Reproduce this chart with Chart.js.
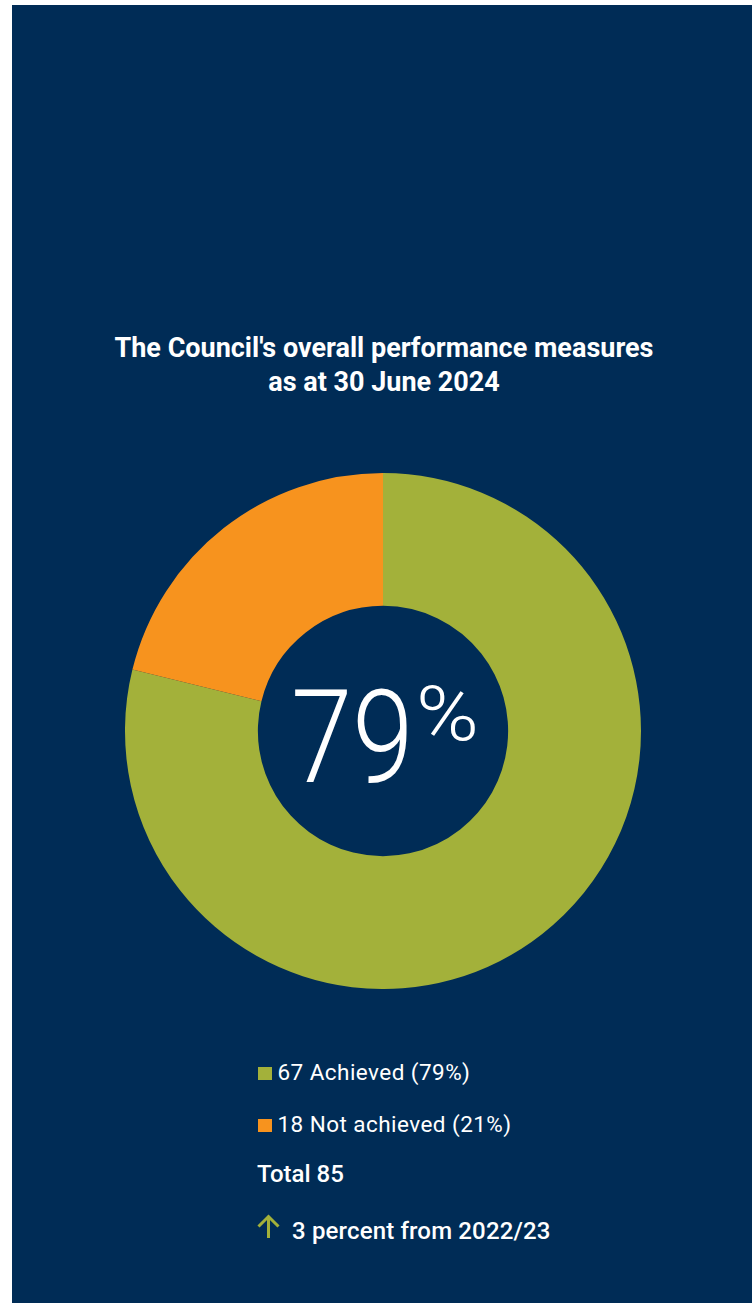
<!DOCTYPE html>
<html>
<head>
<meta charset="utf-8">
<script src="https://cdn.jsdelivr.net/npm/chart.js@4.4.1/dist/chart.umd.min.js"></script>
<style>
  html, body { margin: 0; padding: 0; background: #ffffff; }
  body { width: 752px; height: 1303px; position: relative; overflow: hidden; font-family: Roboto, "Noto Sans", sans-serif; }
  #panel { position: absolute; left: 12px; top: 5px; width: 740px; height: 1298px; background: #002C56; }
  #title { position: absolute; left: 14px; width: 740px; top: 331px; text-align: center; color: #fff; font-weight: 700; font-size: 27px; line-height: 34px; }
  #chartWrap { position: absolute; left: 125px; top: 473px; width: 516px; height: 516px; }
  .abs { position: absolute; color: #fff; white-space: nowrap; }
  #num { left: 291px; top: 673px; font-size: 130px; line-height: 130px; font-weight: 300; transform: scaleX(0.85); transform-origin: 0 0; }
  #pct { left: 416px; top: 676px; font-size: 76px; line-height: 76px; font-weight: 300; transform: scaleX(1.12); transform-origin: 0 0; }
  .sw { position: absolute; left: 258px; width: 14px; height: 13px; }
  .legend { font-size: 22.5px; line-height: 28px; letter-spacing: 0.45px; left: 277.5px; }
  #total { left: 257px; top: 1159.7px; font-weight: 500; font-size: 24px; line-height: 28px; }
  #arrow { position: absolute; left: 257px; top: 1214px; }
  #change { left: 292px; top: 1216.7px; font-weight: 500; font-size: 24px; line-height: 28px; letter-spacing: 0.15px; }
</style>
</head>
<body>
<div id="panel"></div>
<div id="title">The Council's overall performance measures<br>as at 30 June 2024</div>
<div id="chartWrap"><canvas id="c" width="516" height="516"></canvas></div>
<div id="num" class="abs"></div>
<div id="pct" class="abs">%</div>
<div id="legendBox"></div>
<div id="total" class="abs"></div>
<svg id="arrow" width="23" height="24" viewBox="0 0 23 24"><path id="arrowPath" d="M11.5 24 V2.5 M1.5 12.5 L11.5 2.5 L21.5 12.5" stroke-width="3" fill="none"/></svg>
<div id="change" class="abs"></div>
<script>
const categories = ["Achieved", "Not achieved"];
const counts = [67, 18];
const percents = [79, 21];
const colors = ["#A3B13A", "#F7931E"];
const total = 85;
const changePoints = 3;
const changeFrom = "2022/23";

new Chart(document.getElementById('c'), {
  type: 'doughnut',
  data: {
    labels: categories,
    datasets: [{ data: counts, backgroundColor: colors, borderWidth: 0, hoverOffset: 0 }]
  },
  options: {
    responsive: false,
    animation: false,
    cutout: '48.5%',
    layout: { padding: 0 },
    plugins: { legend: { display: false }, tooltip: { enabled: false } }
  }
});

document.getElementById('num').textContent = percents[0];

const box = document.getElementById('legendBox');
const textTops = [1058.3, 1109.8];
const swTops = [1067, 1118.5];
categories.forEach((cat, i) => {
  const s = document.createElement('div');
  s.className = 'sw';
  s.style.top = swTops[i] + 'px';
  s.style.background = colors[i];
  box.appendChild(s);
  const d = document.createElement('div');
  d.className = 'abs legend';
  d.style.top = textTops[i] + 'px';
  d.textContent = counts[i] + ' ' + cat + ' (' + percents[i] + '%)';
  box.appendChild(d);
});
document.getElementById('total').textContent = 'Total ' + total;
document.getElementById('arrowPath').setAttribute('stroke', colors[0]);
document.getElementById('change').textContent = changePoints + ' percent from ' + changeFrom;
</script>
</body>
</html>
